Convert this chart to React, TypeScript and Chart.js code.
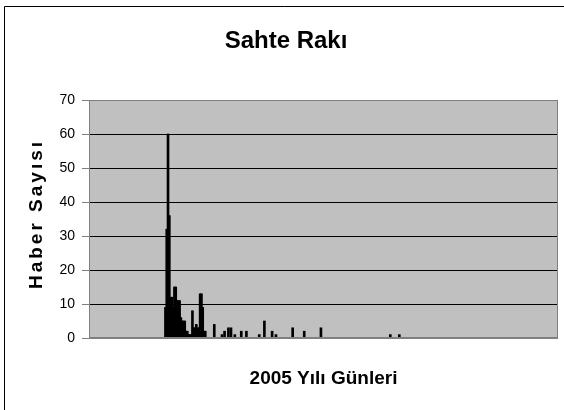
import React, { useEffect, useRef } from "react";
import { Chart, registerables } from "chart.js";

Chart.register(...registerables);

const CHART_TITLE = "Sahte Rakı";
const X_TITLE = "2005 Yılı Günleri";
const Y_TITLE = "Haber Sayısı";

const DAY_COUNT = 365;
// day index (0-based within 2005) and number of news items that day
const newsDays = [
  59, 60, 61, 62, 63, 64, 65, 66, 67, 68, 69, 70, 71, 72, 73, 74, 75, 76, 77, 78,
  79, 80, 81, 82, 83, 84, 85, 86, 87, 88, 89, 90, 97, 103, 105, 108, 110, 113, 118,
  122, 132, 136, 142, 145, 158, 167, 180, 234, 241,
];
const newsCounts = [
  9, 32, 60, 36, 12, 12, 9, 15, 15, 11, 11, 11, 6, 5, 5, 5, 2, 2, 1, 1,
  1, 8, 3, 3, 4, 3, 3, 13, 13, 9, 2, 2, 4, 1, 2, 3, 3, 1, 2,
  2, 1, 5, 2, 1, 3, 2, 3, 1, 1,
];
const Y_MIN = 0;
const Y_MAX = 70;
const Y_STEP = 10;

const dayLabels: string[] = Array.from({ length: DAY_COUNT }, (_, i) => String(i + 1));
const dayValues: (number | null)[] = dayLabels.map((_, i) => {
  const k = newsDays.indexOf(i);
  return k >= 0 ? newsCounts[k] : null;
});

const FONT = "'Liberation Sans', Arial, sans-serif";

const decorPlugin = {
  id: "decor",
  beforeDraw(chart: any) {
    const { ctx, chartArea: a, width, height } = chart;
    ctx.save();
    ctx.fillStyle = "#ffffff";
    ctx.fillRect(0, 0, width, height);
    ctx.strokeStyle = "#000000";
    ctx.lineWidth = 1;
    ctx.beginPath();
    ctx.moveTo(4.5, height + 2);
    ctx.lineTo(4.5, 6.5);
    ctx.lineTo(width + 2, 6.5);
    ctx.stroke();
    ctx.fillStyle = "#C0C0C0";
    ctx.fillRect(a.left, a.top, a.right - a.left, a.bottom - a.top);
    ctx.restore();
  },
  afterDraw(chart: any) {
    const { ctx, chartArea: a } = chart;
    ctx.save();
    ctx.strokeStyle = "#808080";
    ctx.lineWidth = 1;
    ctx.strokeRect(a.left + 0.5, a.top + 0.5, a.right - a.left - 1, a.bottom - a.top - 1);
    ctx.fillStyle = "#000000";
    ctx.textAlign = "center";
    ctx.textBaseline = "alphabetic";
    ctx.font = `bold 24px ${FONT}`;
    ctx.fillText(CHART_TITLE, 286, 48);
    ctx.font = `bold 19px ${FONT}`;
    ctx.fillText(X_TITLE, (a.left + a.right) / 2, 384);
    ctx.translate(42, (a.top + a.bottom) / 2 - 5);
    ctx.rotate(-Math.PI / 2);
    (ctx as any).letterSpacing = "3px";
    ctx.fillText(Y_TITLE, 0, 0);
    ctx.restore();
  },
};

export default function App() {
  const canvasRef = useRef<HTMLCanvasElement | null>(null);
  useEffect(() => {
    const canvas = canvasRef.current;
    if (!canvas) return;
    const chart = new Chart(canvas, {
      type: "bar",
      data: {
        labels: dayLabels,
        datasets: [
          {
            label: Y_TITLE,
            data: dayValues,
            backgroundColor: "#000000",
            borderWidth: 0,
            barThickness: 2,
          },
        ],
      },
      options: {
        responsive: false,
        animation: false,
        maintainAspectRatio: false,
        layout: { padding: { left: 0, top: 100, right: 6, bottom: 72 } },
        plugins: {
          legend: { display: false },
          tooltip: { enabled: false },
          title: { display: false },
        },
        scales: {
          x: { display: false },
          y: {
            min: Y_MIN,
            max: Y_MAX,
            afterFit: (scale: any) => {
              scale.width = 89;
            },
            ticks: {
              stepSize: Y_STEP,
              color: "#000000",
              padding: 7,
              font: { family: FONT, size: 14 },
            },
            grid: {
              color: (c: any) =>
                c.tick && (c.tick.value === Y_MIN || c.tick.value === Y_MAX) ? "#808080" : "#000000",
              tickColor: "#808080",
              tickLength: 7,
              lineWidth: 1,
            },
            border: { color: "#808080" },
          },
        },
      },
      plugins: [decorPlugin],
    });
    return () => chart.destroy();
  }, []);
  return (
    <div style={{ position: "fixed", left: 0, top: 0, width: 564, height: 410, background: "#fff" }}>
      <canvas ref={canvasRef} width={564} height={410} style={{ display: "block", width: 564, height: 410 }} />
    </div>
  );
}
